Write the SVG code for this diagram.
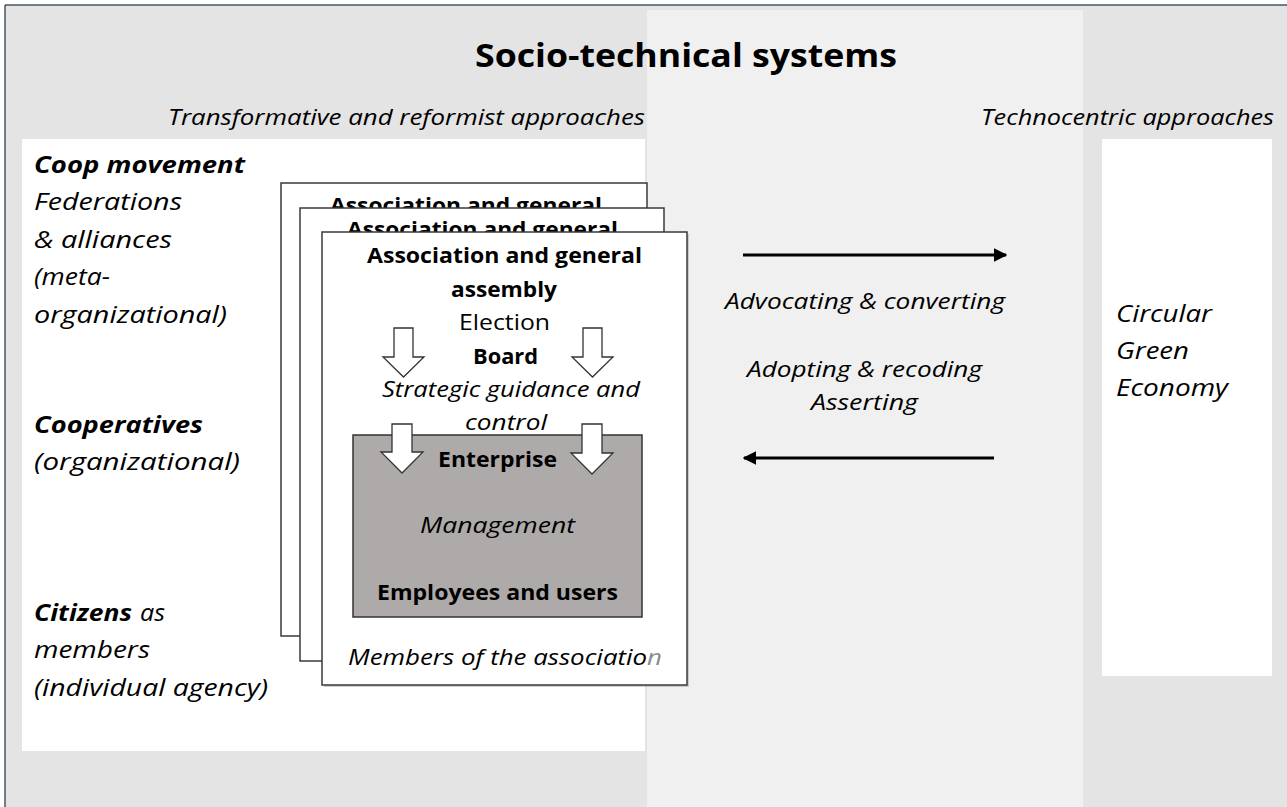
<svg xmlns="http://www.w3.org/2000/svg" width="1287" height="807" viewBox="0 0 1287 807">
<style>
text{font-family:"Open Sans","Liberation Sans",sans-serif;fill:#000}
.b{font-weight:bold}
.i{font-style:italic}
.t{font-size:32px;font-weight:bold}
.s{font-size:21px;font-style:italic}
.l{font-size:23px}
.bx{font-size:21px}
.m{font-size:22px;font-style:italic}
.card{fill:#fff;stroke:#3a3a3a;stroke-width:1.5}
.hollow{fill:#fff;stroke:#333;stroke-width:1.3;stroke-linejoin:miter}
.conn{stroke:#000;stroke-width:3;fill:none}
</style>
<defs>
<marker id="ah" viewBox="0 0 10 10" refX="9" refY="5" markerWidth="4.5" markerHeight="4.5" orient="auto" markerUnits="strokeWidth">
<path d="M0,0 L10,5 L0,10 z" fill="#000"/>
</marker>
<clipPath id="clip1"><rect x="281" y="183" width="366" height="25"/></clipPath>
<clipPath id="clip2"><rect x="300" y="208" width="364" height="24"/></clipPath>
</defs>
<rect x="0" y="0" width="1287" height="807" fill="#fff"/>
<g id="background">
<rect x="5" y="5" width="1282" height="802" fill="#e4e4e4"/>
<rect x="647" y="10" width="436" height="797" fill="#f0f0f0"/>
<line x1="5" y1="5" x2="1287" y2="5" stroke="#44546a" stroke-width="1.5"/>
<line x1="5" y1="5" x2="5" y2="807" stroke="#44546a" stroke-width="1.5"/>
<rect x="22" y="139" width="623" height="612" fill="#fff"/>
<rect x="1102" y="139" width="170" height="537" fill="#fff"/>
</g>
<g id="title">
<text class="t" x="475" y="67" textLength="422" lengthAdjust="spacingAndGlyphs">Socio-technical systems</text>
<text class="s" x="168" y="125" textLength="477" lengthAdjust="spacingAndGlyphs">Transformative and reformist approaches</text>
<text class="s" x="981" y="125" textLength="293" lengthAdjust="spacingAndGlyphs">Technocentric approaches</text>
</g>
<g id="levels">
<text class="l b i" x="34" y="173" textLength="211" lengthAdjust="spacingAndGlyphs">Coop movement</text>
<text class="l i" x="34" y="210" textLength="148" lengthAdjust="spacingAndGlyphs">Federations</text>
<text class="l i" x="34" y="248" textLength="138" lengthAdjust="spacingAndGlyphs">&amp; alliances</text>
<text class="l i" x="34" y="285" textLength="76" lengthAdjust="spacingAndGlyphs">(meta-</text>
<text class="l i" x="34" y="323" textLength="193" lengthAdjust="spacingAndGlyphs">organizational)</text>
<text class="l b i" x="34" y="433" textLength="169" lengthAdjust="spacingAndGlyphs">Cooperatives</text>
<text class="l i" x="34" y="470" textLength="206" lengthAdjust="spacingAndGlyphs">(organizational)</text>
<text class="l b i" x="34" y="621" textLength="98" lengthAdjust="spacingAndGlyphs">Citizens</text>
<text class="l i" x="140" y="621" textLength="25" lengthAdjust="spacingAndGlyphs">as</text>
<text class="l i" x="34" y="658" textLength="116" lengthAdjust="spacingAndGlyphs">members</text>
<text class="l i" x="34" y="696" textLength="234" lengthAdjust="spacingAndGlyphs">(individual agency)</text>
</g>
<g id="card1">
<rect class="card" x="281" y="183" width="366" height="453"/>
<g clip-path="url(#clip1)"><text class="bx b" x="330" y="213" textLength="272" lengthAdjust="spacingAndGlyphs">Association and general</text></g>
</g>
<g id="card2">
<rect class="card" x="300" y="208" width="364" height="453"/>
<g clip-path="url(#clip2)"><text class="bx b" x="347" y="237" textLength="271" lengthAdjust="spacingAndGlyphs">Association and general</text></g>
</g>
<g id="card3">
<rect x="324" y="234" width="365" height="453" fill="#b0b0b0" opacity="0.6"/>
<rect class="card" x="322" y="232" width="365" height="453"/>
<text class="bx b" x="367" y="263" textLength="275" lengthAdjust="spacingAndGlyphs">Association and general</text>
<text class="bx b" x="451" y="297" textLength="106" lengthAdjust="spacingAndGlyphs">assembly</text>
<text class="bx" x="459" y="330" textLength="91" lengthAdjust="spacingAndGlyphs">Election</text>
<text class="bx b" x="473" y="364" textLength="65" lengthAdjust="spacingAndGlyphs">Board</text>
<text class="bx i" x="382" y="397" textLength="258" lengthAdjust="spacingAndGlyphs">Strategic guidance and</text>
<text class="bx i" x="465" y="430" textLength="82" lengthAdjust="spacingAndGlyphs">control</text>
<text class="bx i" x="348" y="665" textLength="314" lengthAdjust="spacingAndGlyphs">Members of the associatio<tspan fill="#8a8a8a">n</tspan></text>
</g>
<g id="enterprise">
<rect x="353" y="435" width="289" height="182" fill="#aeaaaa" stroke="#333" stroke-width="1.5"/>
<text class="bx b" x="438" y="467" textLength="119" lengthAdjust="spacingAndGlyphs">Enterprise</text>
<text class="bx i" x="420" y="533" textLength="155" lengthAdjust="spacingAndGlyphs">Management</text>
<text class="bx b" x="377" y="600" textLength="241" lengthAdjust="spacingAndGlyphs">Employees and users</text>
</g>
<g id="hollow-arrows">
<path class="hollow" d="M394,328 H413 V357 H424 L403.5,377 L383,357 H394 Z"/>
<path class="hollow" d="M583,328 H602 V357 H613 L592.5,377 L572,357 H583 Z"/>
<path class="hollow" d="M392,424 H412 V452 H423 L402,473 L381,452 H392 Z"/>
<path class="hollow" d="M582,424 H602 V453 H613 L592,474 L571,453 H582 Z"/>
</g>
<g id="right-panel">
<text class="l i" x="1116" y="322" textLength="96" lengthAdjust="spacingAndGlyphs">Circular</text>
<text class="l i" x="1116" y="359" textLength="73" lengthAdjust="spacingAndGlyphs">Green</text>
<text class="l i" x="1116" y="396" textLength="112" lengthAdjust="spacingAndGlyphs">Economy</text>
</g>
<g id="connectors">
<line class="conn" x1="743" y1="255" x2="1006" y2="255" marker-end="url(#ah)"/>
<line class="conn" x1="994" y1="458" x2="744" y2="458" marker-end="url(#ah)"/>
<text class="m" x="725" y="309" textLength="280" lengthAdjust="spacingAndGlyphs">Advocating &amp; converting</text>
<text class="m" x="747" y="377" textLength="235" lengthAdjust="spacingAndGlyphs">Adopting &amp; recoding</text>
<text class="m" x="811" y="410" textLength="107" lengthAdjust="spacingAndGlyphs">Asserting</text>
</g>
</svg>
